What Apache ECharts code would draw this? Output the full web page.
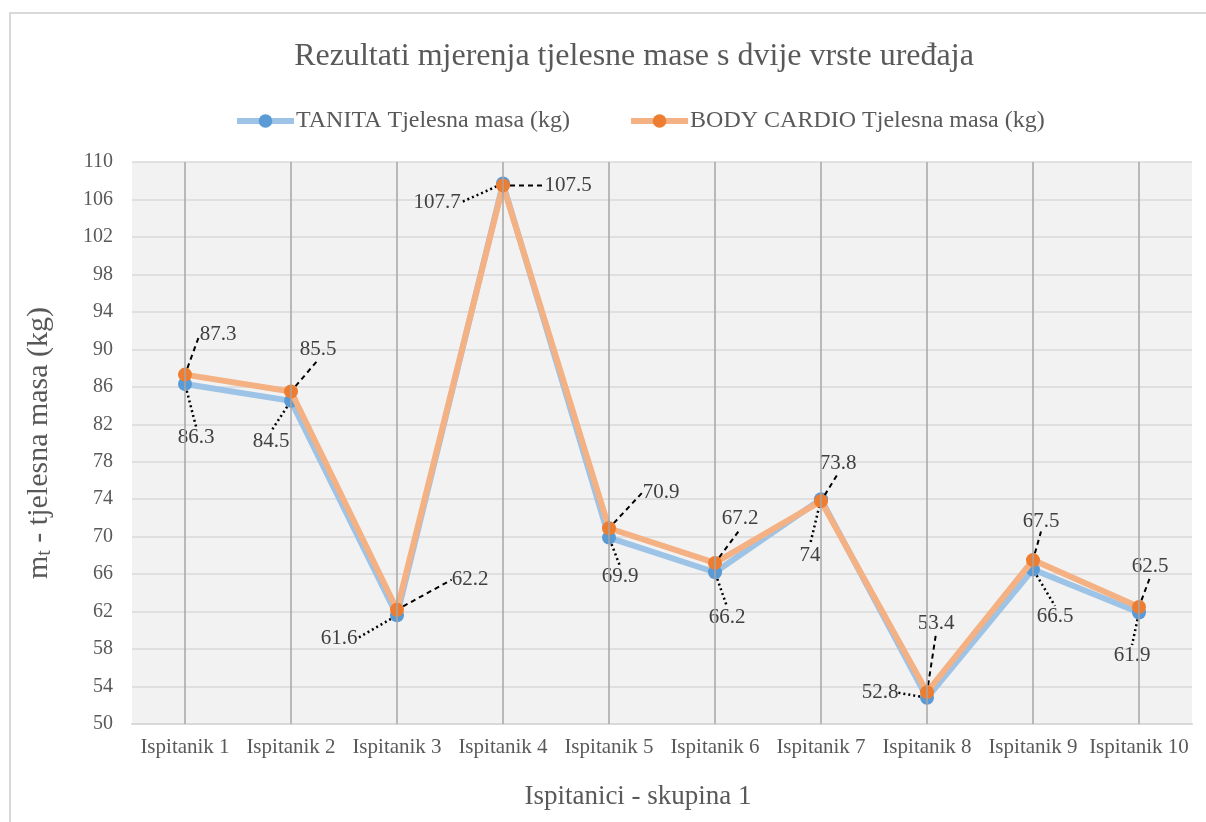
<!DOCTYPE html>
<html lang="hr">
<head>
    <meta charset="UTF-8">
    <title>Tjelesna masa</title>
    <script src="https://cdn.jsdelivr.net/npm/echarts@6/dist/echarts.min.js"></script>
    <style>
        html, body { margin: 0; padding: 0; background: #fff; }
    </style>
</head>
<body>
    <div id="main" style="width: 1206px;height: 822px"></div>
    <script type="text/javascript">
        var categories = ['Ispitanik 1', 'Ispitanik 2', 'Ispitanik 3', 'Ispitanik 4', 'Ispitanik 5',
            'Ispitanik 6', 'Ispitanik 7', 'Ispitanik 8', 'Ispitanik 9', 'Ispitanik 10'];
        var tanita = [86.3, 84.5, 61.6, 107.7, 69.9, 66.2, 74, 52.8, 66.5, 61.9];
        var bodyCardio = [87.3, 85.5, 62.2, 107.5, 70.9, 67.2, 73.8, 53.4, 67.5, 62.5];
        var yTicks = { min: 50, max: 110, step: 4 };

        // where each data label sits, relative to its point (px)
        var tanitaLabelShift = [[11, 53], [-20, 41], [-58, 23], [-66, 19], [11, 39],
            [12, 45], [-11, 56], [-47, -5], [22, 47], [-7, 43]];
        var cardioLabelShift = [[33, -40], [27, -42], [73, -30], [65, 0], [52, -36],
            [25, -44], [17, -38], [9, -69], [8, -39], [11, -40]];
        var shifts = [tanitaLabelShift, cardioLabelShift];

        var font = 'Liberation Serif';
        var textColor = '#595959';

        function labelPlace(params) {
            var s = shifts[params.seriesIndex];
            if (!s) return {};
            var d = s[params.dataIndex];
            var r = params.rect;
            return {
                x: r.x + r.width / 2 + d[0],
                y: r.y + r.height / 2 + d[1],
                align: 'center',
                verticalAlign: 'middle'
            };
        }

        var option = {
            backgroundColor: '#ffffff',
            textStyle: { fontFamily: font },
            title: {
                text: 'Rezultati mjerenja tjelesne mase s dvije vrste uređaja',
                left: 629,
                textAlign: 'center',
                top: 36,
                textStyle: { fontFamily: font, fontSize: 32, fontWeight: 'normal', color: textColor }
            },
            legend: {
                data: ['TANITA Tjelesna masa (kg)', 'BODY CARDIO Tjelesna masa (kg)'],
                left: 229,
                top: 104,
                itemWidth: 57,
                itemHeight: 17,
                itemGap: 58,
                lineStyle: { width: 6 },
                textStyle: { fontFamily: font, fontSize: 24, color: textColor, padding: [0, 0, 0, -3] }
            },
            graphic: [{
                type: 'rect',
                shape: { x: 10, y: 13, width: 1400, height: 1000 },
                style: { fill: 'none', stroke: '#d9d9d9', lineWidth: 2 },
                silent: true
            }],
            grid: {
                left: 132, right: 14, top: 162, bottom: 98,
                show: true, backgroundColor: '#f2f2f2', borderWidth: 0
            },
            xAxis: {
                type: 'category',
                data: categories,
                boundaryGap: true,
                axisLine: { show: true, lineStyle: { color: '#d9d9d9', width: 2 } },
                axisTick: { show: false },
                axisLabel: { fontFamily: font, fontSize: 21, color: textColor, margin: 13, interval: 0 },
                splitLine: { show: false },
                name: 'Ispitanici - skupina 1',
                nameLocation: 'middle',
                nameGap: 59,
                nameTextStyle: { fontFamily: font, fontSize: 27, color: textColor, padding: [0, 48, 0, 0] }
            },
            yAxis: {
                type: 'value',
                min: yTicks.min,
                max: yTicks.max,
                interval: yTicks.step,
                axisLine: { show: false },
                axisTick: { show: false },
                axisLabel: { fontFamily: font, fontSize: 20, color: textColor, margin: 19 },
                splitLine: { lineStyle: { color: '#d9d9d9', width: 1.5 } },
                name: '{m|m}{t|t}{m| - tjelesna masa (kg)}',
                nameLocation: 'middle',
                nameGap: 77,
                nameRotate: 90,
                nameTextStyle: {
                    rich: {
                        m: { fontFamily: font, fontSize: 30, color: textColor },
                        t: { fontFamily: font, fontSize: 20, color: textColor, verticalAlign: 'bottom', padding: [11, 0, 0, 0] }
                    }
                }
            },
            series: [
                {
                    name: 'TANITA Tjelesna masa (kg)',
                    type: 'line',
                    data: tanita,
                    z: 3,
                    symbol: 'circle',
                    symbolSize: 14,
                    lineStyle: { color: '#9dc3e6', width: 6 },
                    itemStyle: { color: '#5b9bd5' },
                    label: {
                        show: true,
                        padding: [3, 5],
                        fontFamily: font, fontSize: 21, color: '#404040'
                    },
                    labelLine: {
                        show: true,
                        lineStyle: { color: '#000', width: 2.5, type: [2, 3] }
                    },
                    labelLayout: labelPlace
                },
                {
                    name: 'BODY CARDIO Tjelesna masa (kg)',
                    type: 'line',
                    data: bodyCardio,
                    z: 4,
                    symbol: 'circle',
                    symbolSize: 14,
                    lineStyle: { color: '#f4b183', width: 6 },
                    itemStyle: { color: '#ed7d31' },
                    label: {
                        show: true,
                        padding: [3, 5],
                        fontFamily: font, fontSize: 21, color: '#404040'
                    },
                    labelLine: {
                        show: true,
                        lineStyle: { color: '#000', width: 2, type: [5, 4] }
                    },
                    labelLayout: labelPlace
                },
                {
                    // vertical gridlines through category centres
                    name: 'grid',
                    type: 'line',
                    data: [],
                    z: 1,
                    silent: true,
                    markLine: {
                        silent: true,
                        symbol: ['none', 'none'],
                        label: { show: false },
                        lineStyle: { color: '#a6a6a6', width: 1.5, type: 'solid' },
                        animation: false,
                        data: categories.map(function (c) { return { xAxis: c }; })
                    }
                }
            ],
            animation: false
        };

        var myChart = echarts.init(document.getElementById('main'));
        myChart.setOption(option);
    </script>
</body>
</html>
